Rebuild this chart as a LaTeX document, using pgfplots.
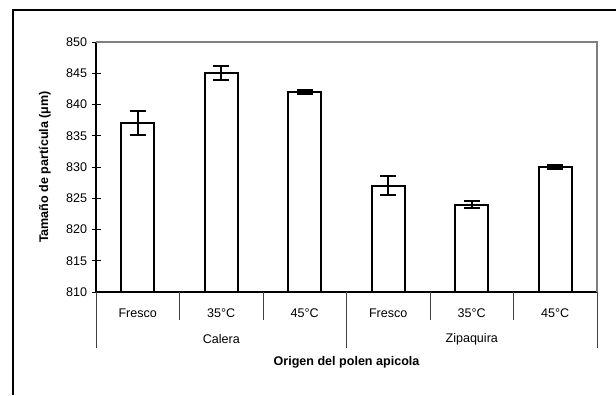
\documentclass[border=0pt]{standalone}
\usepackage{pgfplots}
\pgfplotsset{compat=1.18}
\usepackage{fontspec}
\setmainfont{Liberation Sans}
\begin{document}
\fontsize{12.6}{15}\selectfont
\begin{tikzpicture}[x=1bp,y=1bp]
\useasboundingbox (0,0) rectangle (616,395);
\draw[line width=1.2bp] (13,0) -- (13,385) -- (616,385);
\begin{axis}[
  at={(96bp,103bp)}, anchor=south west,
  scale only axis, width=501bp, height=250bp,
  xmin=-0.5, xmax=5.5, ymin=810, ymax=850,
  ytick={810,815,...,850},
  xtick={0,...,5},
  xticklabels={Fresco,35°C,45°C,Fresco,35°C,45°C},
  xticklabel style={yshift=-8bp},
  major x tick style={draw=none},
  tick align=outside, major tick length=9bp,
  tick style={black, line width=1bp},
  axis x line=bottom, axis y line=left,
  axis line style={-, black, line width=1.2bp},
  /pgf/number format/assume math mode=true,
  /pgf/number format/1000 sep={},
  ylabel={\bfseries Tamaño de partícula (μm)},
  ylabel style={at={(axis description cs:-0.102,0.5)}, anchor=center},
  xlabel={\bfseries Origen del polen apicola},
  xlabel style={at={(axis description cs:0.5,-0.28)}, anchor=center},
  clip=false,
]
\draw[gray, line width=1.5bp] (rel axis cs:0,1) -- (rel axis cs:1,1) -- (rel axis cs:1,0);
\addplot[ybar, bar width=33bp, fill=white, draw=black, line width=2bp,
  error bars/.cd, y dir=both, y explicit,
  error bar style={line width=2bp},
  error mark options={rotate=90, mark size=8bp, line width=2bp}]
  coordinates {
  (0,837) +- (0,1.9)
  (1,845) +- (0,1.15)
  (2,842) +- (0,0.3)
  (3,827) +- (0,1.5)
  (4,824) +- (0,0.5)
  (5,830) +- (0,0.3)
  };
\pgfplotsinvokeforeach{0.5,1.5,3.5,4.5}{
  \draw[black!75, line width=1bp] (axis cs:#1,810) -- ([yshift=-28bp]axis cs:#1,810);
}
\pgfplotsinvokeforeach{-0.5,2.5,5.5}{
  \draw[black!75, line width=1bp] (axis cs:#1,810) -- ([yshift=-56bp]axis cs:#1,810);
}
\node at ([yshift=-47bp]axis cs:1,810) {Calera};
\node at ([yshift=-47bp]axis cs:4,810) {Zipaquira};
\end{axis}
\end{tikzpicture}
\end{document}
